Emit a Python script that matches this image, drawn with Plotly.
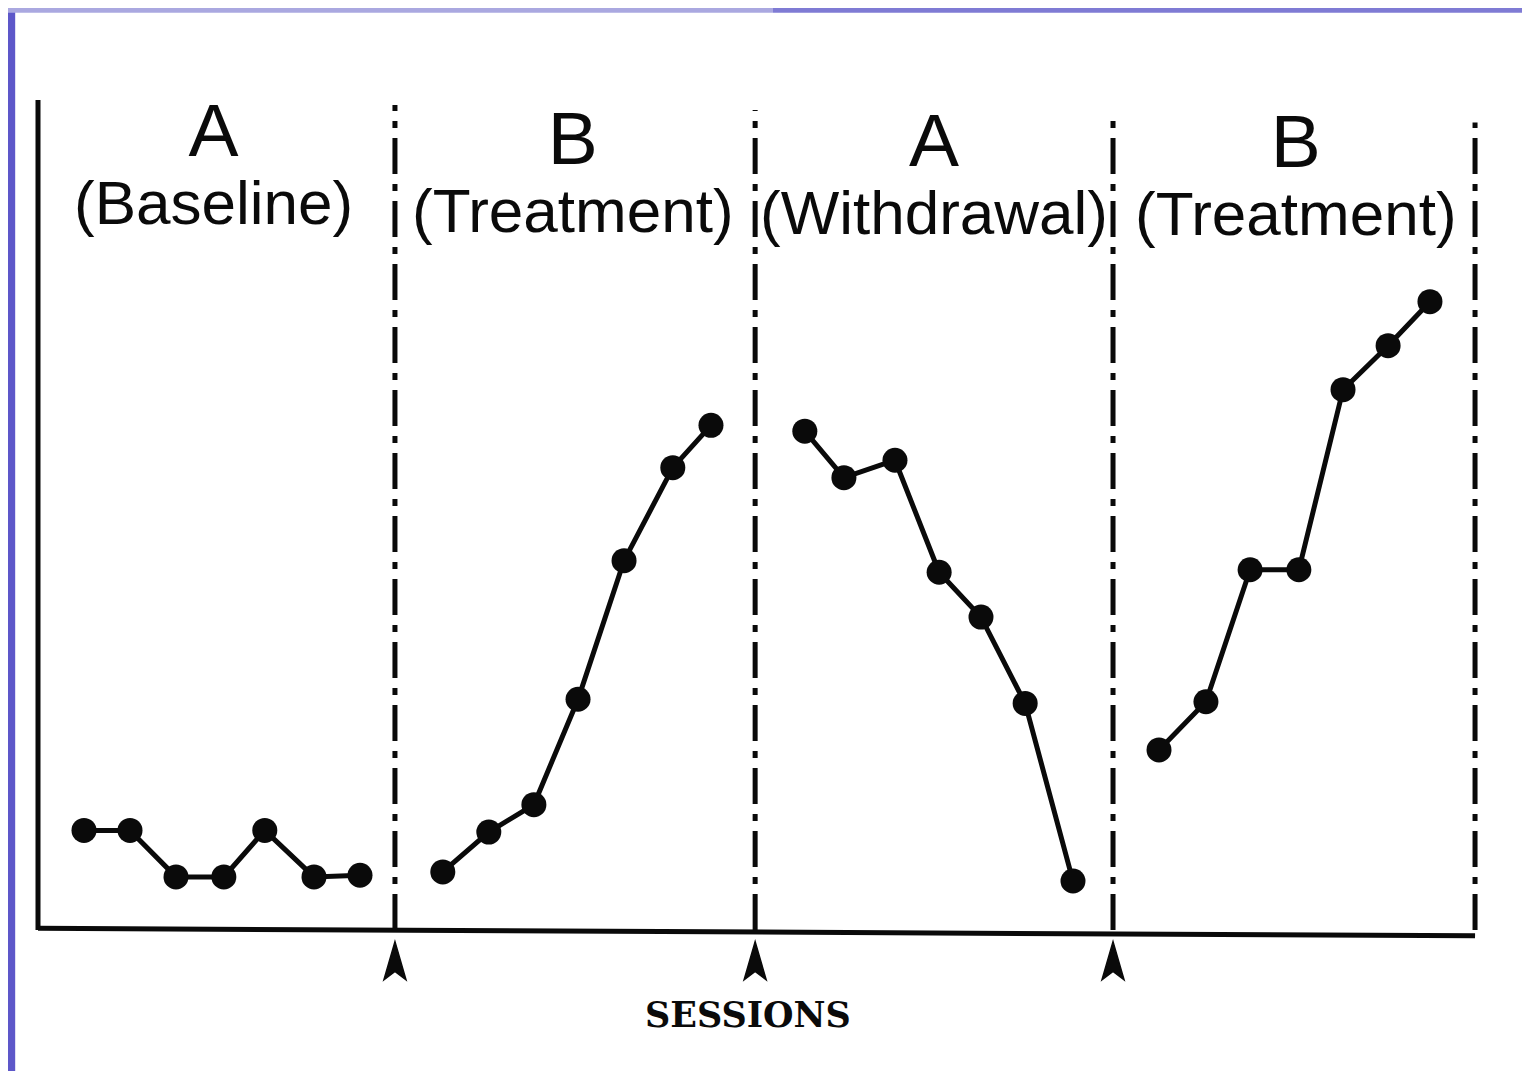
import plotly.graph_objects as go

# ---- data ----
phase_names = ["A", "B", "A", "B"]
phase_subtitles = ["(Baseline)", "(Treatment)", "(Withdrawal)", "(Treatment)"]

baseline_x = [1.0, 2.0, 3.0, 4.04, 4.93, 6.0, 7.0]
baseline_y = [12.0, 12.0, 6.4, 6.4, 12.0, 6.4, 6.6]

treat1_x = [8.8, 9.8, 10.78, 11.74, 12.74, 13.8, 14.63]
treat1_y = [7.0, 11.8, 15.1, 27.8, 44.5, 55.7, 60.8]

withdraw_x = [16.67, 17.52, 18.63, 19.59, 20.5, 21.46, 22.5]
withdraw_y = [60.1, 54.5, 56.6, 43.1, 37.7, 27.3, 5.9]

treat2_x = [24.37, 25.39, 26.35, 27.41, 28.37, 29.35, 30.26]
treat2_y = [21.7, 27.5, 43.4, 43.4, 65.1, 70.4, 75.7]

phase_bounds = [7.76, 15.59, 23.37, 31.24]
phase_tops = [99.4, 98.8, 97.8, 97.3]
label_x = [3.82, 11.63, 19.47, 27.35]
label_y = [92.5, 91.5, 91.3, 91.1]

x_label = "SESSIONS"

INK = "#0a0a0a"

# ---- figure ----
fig = go.Figure()

for xs, ys in [(baseline_x, baseline_y), (treat1_x, treat1_y),
               (withdraw_x, withdraw_y), (treat2_x, treat2_y)]:
    fig.add_trace(go.Scatter(
        x=xs, y=ys, mode="lines+markers",
        line=dict(color=INK, width=5),
        marker=dict(color=INK, size=25),
        showlegend=False, hoverinfo="skip"))

shapes = []
# axes
shapes.append(dict(type="line", xref="x", yref="y", x0=0, y0=0, x1=0, y1=100,
                   line=dict(color=INK, width=5)))
shapes.append(dict(type="line", xref="x", yref="y", x0=0, y0=0.2, x1=phase_bounds[-1], y1=-0.7,
                   line=dict(color=INK, width=5)))
# phase change lines
for b, top in zip(phase_bounds, phase_tops):
    shapes.append(dict(type="line", xref="x", yref="y", x0=b, y0=0, x1=b, y1=top,
                       line=dict(color=INK, width=5, dash="36px,10px,7px,10px")))
# arrows under phase changes
hw = 0.24
for b in phase_bounds[:-1]:
    path = f"M {b},-1.4 L {b-hw},-6.0 L {b},-5.0 L {b+hw},-6.0 Z"
    shapes.append(dict(type="path", xref="x", yref="y", path=path,
                       fillcolor=INK, line=dict(color=INK, width=1.5)))
# scan border strips
shapes.append(dict(type="rect", xref="paper", yref="paper", x0=0, x1=0.0047, y0=0, y1=1,
                   fillcolor="#5d57c9", line=dict(width=0), layer="above"))
shapes.append(dict(type="rect", xref="paper", yref="paper", x0=0, x1=0.5, y0=0.9955, y1=1,
                   fillcolor="#aaa8e0", line=dict(width=0), layer="above"))
shapes.append(dict(type="rect", xref="paper", yref="paper", x0=0.5, x1=1, y0=0.9955, y1=1,
                   fillcolor="#7f7bd4", line=dict(width=0), layer="above"))

annotations = []
for lx, ly, n, s in zip(label_x, label_y, phase_names, phase_subtitles):
    text = (f"<span style='font-size:75px'>{n}</span><br>"
            f"<span style='font-size:62px'>{s}</span>")
    annotations.append(dict(x=lx, y=ly, xref="x", yref="y", text=text, showarrow=False,
                            align="center",
                            font=dict(family="Liberation Sans, Arial", size=52, color=INK)))
annotations.append(dict(x=15.43, y=-10.2, xref="x", yref="y", text=x_label, showarrow=False,
                        font=dict(family="DejaVu Serif", size=35, color=INK, weight="bold")))

# the page puts the figure 8px in from the window edge; compensate
page_offset = 8
px_per_x = 46.0
px_per_y = 8.3
x0_px = 38 - page_offset
y0_px = 930 - page_offset
fig.update_layout(
    width=1530, height=1071,
    margin=dict(l=0, r=0, t=0, b=0),
    paper_bgcolor="white", plot_bgcolor="white",
    xaxis=dict(range=[-x0_px / px_per_x, (1530 - x0_px) / px_per_x], visible=False, fixedrange=True),
    yaxis=dict(range=[-(1071 - y0_px) / px_per_y, y0_px / px_per_y], visible=False, fixedrange=True),
    shapes=shapes, annotations=annotations,
)

fig.write_html("out.html")
